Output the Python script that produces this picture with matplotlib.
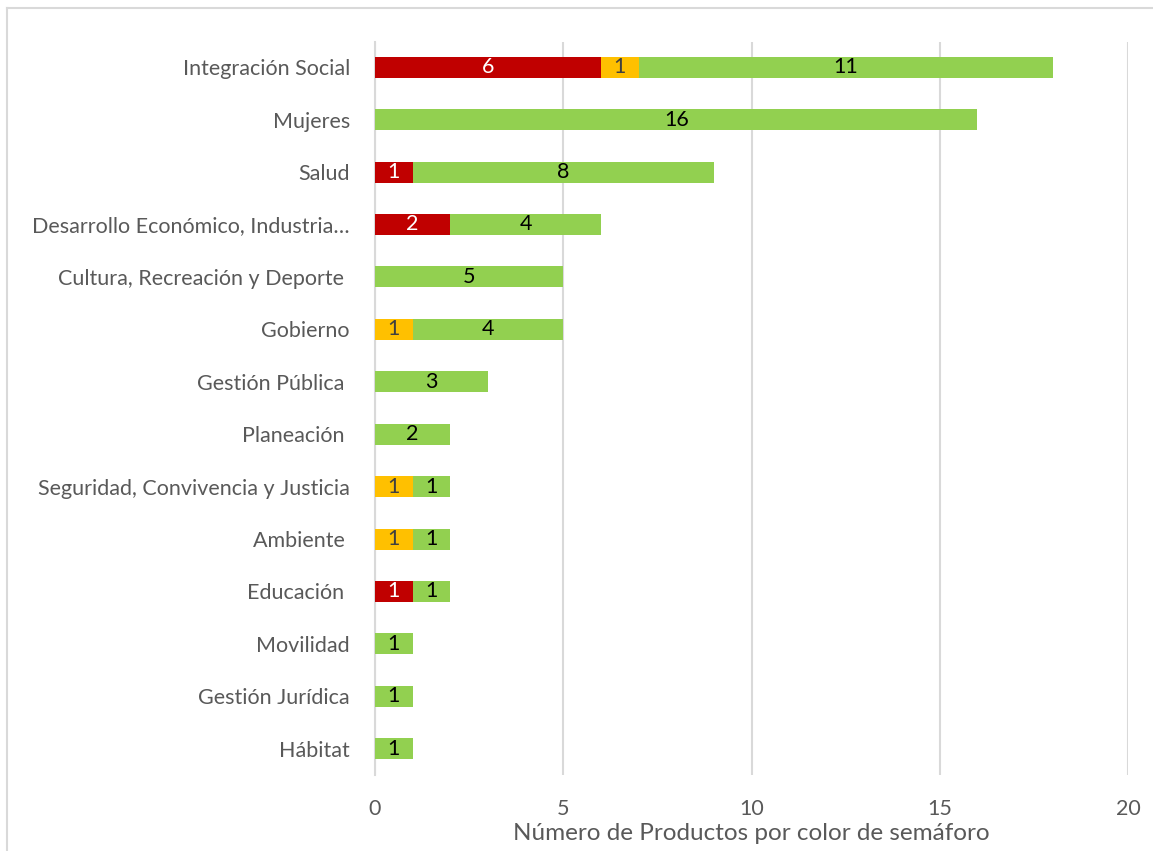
import matplotlib.pyplot as plt
import numpy as np
from matplotlib.lines import Line2D

# Datos
categorias = ["Integración Social", "Mujeres", "Salud",
              "Desarrollo Económico, Industria…", "Cultura, Recreación y Deporte ",
              "Gobierno", "Gestión Pública ", "Planeación ",
              "Seguridad, Convivencia y Justicia", "Ambiente ", "Educación ",
              "Movilidad", "Gestión Jurídica", "Hábitat"]
rojo = [6, 0, 1, 2, 0, 0, 0, 0, 0, 0, 1, 0, 0, 0]
amarillo = [1, 0, 0, 0, 0, 1, 0, 0, 1, 1, 0, 0, 0, 0]
verde = [11, 16, 8, 4, 5, 4, 3, 2, 1, 1, 1, 1, 1, 1]

plt.rcParams['font.family'] = ['Lato', 'DejaVu Sans']

fig = plt.figure(figsize=(11.53, 8.51), dpi=100)
ax = fig.add_axes([375 / 1153, 1 - 775 / 851, (1128 - 375) / 1153, (775 - 42) / 851])

y = np.arange(len(categorias))
rojo = np.array(rojo)
amarillo = np.array(amarillo)
verde = np.array(verde)

series = [
    (rojo, np.zeros(len(y)), '#C00000', 'white'),
    (amarillo, rojo, '#FFC000', '#404040'),
    (verde, rojo + amarillo, '#92D050', 'black'),
]
for vals, left, color, tcolor in series:
    bars = ax.barh(y, vals, left=left, height=0.4, color=color, zorder=3)
    for b, v in zip(bars, vals):
        if v > 0:
            ax.text(b.get_x() + b.get_width() / 2, b.get_y() + b.get_height() / 2,
                    str(v), ha='center', va='center', color=tcolor, fontsize=15.5, zorder=4)

ax.set_yticks(y)
ax.set_yticklabels(categorias)
ax.set_ylim(len(y) - 0.5, -0.48)
ax.set_xlim(0, 20)
ax.set_xticks([0, 5, 10, 15, 20])
ax.grid(axis='x', color='#D9D9D9', linewidth=1.5, zorder=0)
for s in ['top', 'right', 'bottom']:
    ax.spines[s].set_visible(False)
ax.spines['left'].set_color('#D9D9D9')
ax.spines['left'].set_linewidth(1.5)
ax.tick_params(axis='both', length=0, labelsize=15.5, colors='#595959')
ax.tick_params(axis='x', pad=17)
ax.tick_params(axis='y', pad=18)
ax.set_xlabel("Número de Productos por color de semáforo", fontsize=17.5, color='#595959', labelpad=3)

# borde del gráfico
fig.add_artist(Line2D([7 / 1153, 7 / 1153], [0, 1 - 8 / 851], color='#D9D9D9', linewidth=1.5))
fig.add_artist(Line2D([7 / 1153, 1], [1 - 8 / 851, 1 - 8 / 851], color='#D9D9D9', linewidth=1.5))

fig.savefig("out.png", dpi=100)
